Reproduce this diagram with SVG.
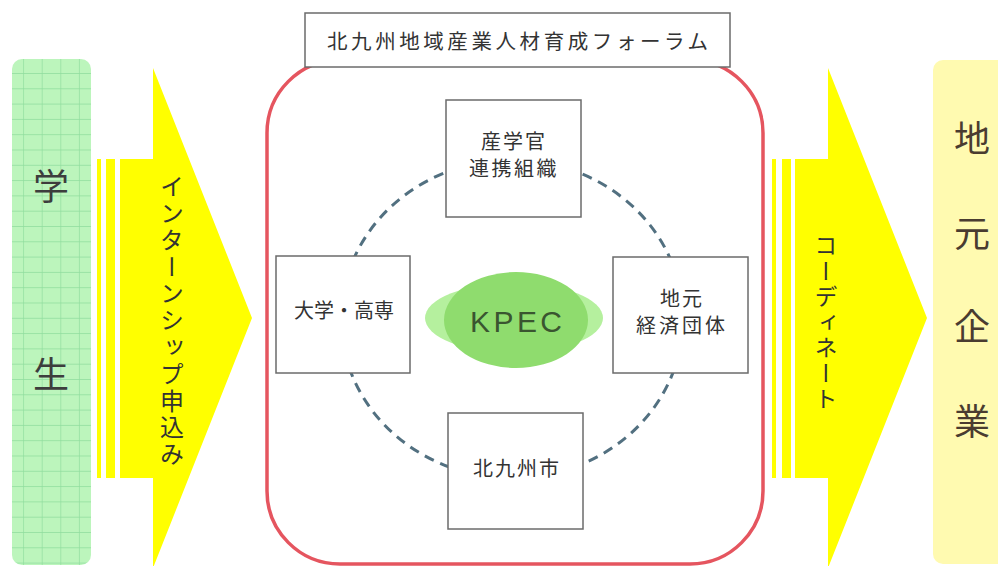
<svg xmlns="http://www.w3.org/2000/svg" width="998" height="566" viewBox="0 0 998 566">
<defs>
<pattern id="grid" patternUnits="userSpaceOnUse" x="4.5" y="57.7" width="18.6" height="15.3">
<rect width="18.6" height="15.3" fill="#bcf5bc"/>
<path d="M0 0H18.6M0 0V15.3" stroke="#8edc9c" stroke-width="1.3" fill="none"/>
</pattern>
</defs>
<style>
.jp{font-family:"Noto Sans CJK JP","Noto Sans",sans-serif;fill:#333}
.box{fill:#fff;stroke:#6b6b6b;stroke-width:1.5}
.arrow{fill:#ffff00}
.big{font-size:36px;fill:#3d3d3d;text-anchor:middle}
.brown{fill:#4a3c30}
.node{font-size:20px;text-anchor:middle}
.vt{writing-mode:vertical-rl;font-size:24px}
</style>
<rect width="998" height="566" fill="#fff"/>
<g id="student">
<rect x="12" y="59" width="79" height="506" rx="10" fill="url(#grid)"/>
<text class="jp big" x="51" y="200">学</text>
<text class="jp big" x="51" y="388">生</text>
</g>
<g id="company">
<rect x="933" y="60" width="80" height="504" rx="10" fill="#fffab0"/>
<text class="jp big brown" x="972" y="152">地</text>
<text class="jp big brown" x="972" y="247">元</text>
<text class="jp big brown" x="972" y="340">企</text>
<text class="jp big brown" x="972" y="435">業</text>
</g>
<g id="arrow-left">
<rect class="arrow" x="97" y="159" width="4" height="319"/>
<rect class="arrow" x="106" y="159" width="9" height="319"/>
<polygon class="arrow" points="120,159 153,159 153,68 252,318 153,568 153,478 120,478"/>
<text class="jp vt" x="172" y="174" letter-spacing="2.8">インターンシップ申込み</text>
</g>
<g id="arrow-right">
<rect class="arrow" x="772" y="159" width="4" height="319"/>
<rect class="arrow" x="782" y="159" width="9" height="319"/>
<polygon class="arrow" points="795,159 828,159 828,68 927,318 828,568 828,478 795,478"/>
<text class="jp vt" x="826" y="234" style="font-size:23px" letter-spacing="2.5">コーディネート</text>
</g>
<g id="forum">
<rect x="267" y="60" width="496" height="504" rx="73" fill="none" stroke="#e5555f" stroke-width="3.5"/>
</g>
<g id="connectors">
<ellipse cx="512" cy="319" rx="171" ry="159" fill="none" stroke="#527080" stroke-width="3" stroke-dasharray="10 7"/>
</g>
<g id="title">
<rect class="box" x="305" y="13" width="425" height="54"/>
<text class="jp" x="327" y="48.5" font-size="20.5" textLength="381" lengthAdjust="spacing">北九州地域産業人材育成フォーラム</text>
</g>
<g id="kpec">
<ellipse cx="514" cy="318" rx="89" ry="35" fill="#b5f09e"/>
<ellipse cx="516" cy="320" rx="72" ry="48" fill="#8fdc6e"/>
<text x="470" y="332" font-family="Liberation Sans, Arial, sans-serif" font-size="30" fill="#3a5530" textLength="92" lengthAdjust="spacing">KPEC</text>
</g>
<g id="node-top">
<rect class="box" x="446" y="100" width="135" height="117"/>
<text class="jp node" x="514" y="149" letter-spacing="2">産学官</text>
<text class="jp node" x="514" y="176" letter-spacing="2.5">連携組織</text>
</g>
<g id="node-left">
<rect class="box" x="276" y="256" width="134" height="117"/>
<text class="jp node" x="344" y="317.5">大学・高専</text>
</g>
<g id="node-right">
<rect class="box" x="613" y="257" width="135" height="116"/>
<text class="jp node" x="682" y="305.5" letter-spacing="2">地元</text>
<text class="jp node" x="682" y="332.5" letter-spacing="3">経済団体</text>
</g>
<g id="node-bottom">
<rect class="box" x="448" y="413" width="135" height="116"/>
<text class="jp node" x="517" y="475.5" letter-spacing="2">北九州市</text>
</g>
</svg>
